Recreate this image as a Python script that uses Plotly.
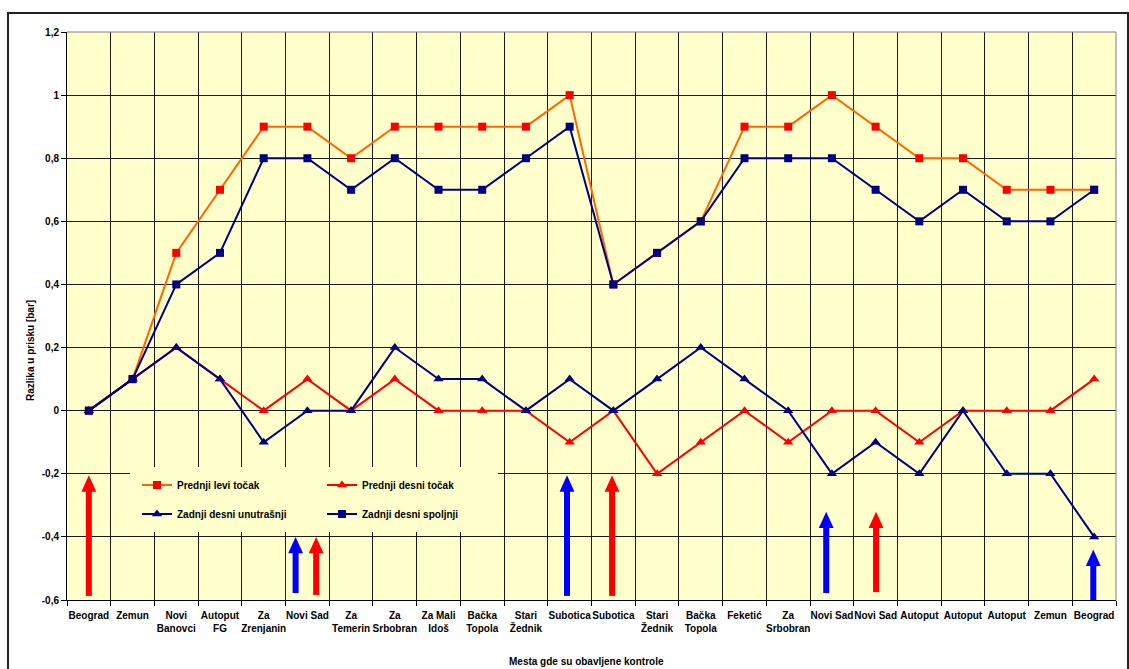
import plotly.graph_objects as go

# ---------------- data ----------------
categories = ["Beograd", "Zemun", "Novi<br>Banovci", "Autoput<br>FG", "Za<br>Zrenjanin",
              "Novi Sad", "Za<br>Temerin", "Za<br>Srbobran", "Za Mali<br>Idoš", "Bačka<br>Topola",
              "Stari<br>Žednik", "Subotica", "Subotica", "Stari<br>Žednik", "Bačka<br>Topola",
              "Feketić", "Za<br>Srbobran", "Novi Sad", "Novi Sad", "Autoput", "Autoput",
              "Autoput", "Zemun", "Beograd"]

prednji_levi = [0, 0.1, 0.5, 0.7, 0.9, 0.9, 0.8, 0.9, 0.9, 0.9, 0.9, 1.0,
                0.4, 0.5, 0.6, 0.9, 0.9, 1.0, 0.9, 0.8, 0.8, 0.7, 0.7, 0.7]
prednji_desni = [0, 0.1, 0.2, 0.1, 0, 0.1, 0, 0.1, 0, 0, 0, -0.1,
                 0, -0.2, -0.1, 0, -0.1, 0, 0, -0.1, 0, 0, 0, 0.1]
zadnji_unutrasnji = [0, 0.1, 0.2, 0.1, -0.1, 0, 0, 0.2, 0.1, 0.1, 0, 0.1,
                     0, 0.1, 0.2, 0.1, 0, -0.2, -0.1, -0.2, 0, -0.2, -0.2, -0.4]
zadnji_spoljnji = [0, 0.1, 0.4, 0.5, 0.8, 0.8, 0.7, 0.8, 0.7, 0.7, 0.8, 0.9,
                   0.4, 0.5, 0.6, 0.8, 0.8, 0.8, 0.7, 0.6, 0.7, 0.6, 0.6, 0.7]

y_tickvals = [-0.6, -0.4, -0.2, 0, 0.2, 0.4, 0.6, 0.8, 1.0, 1.2]
y_ticktext = ["-0,6", "-0,4", "-0,2", "0", "0,2", "0,4", "0,6", "0,8", "1", "1,2"]

# arrows: (x position, tip value, base value, colour)
arrow_x = [0.0, 4.73, 5.2, 10.94, 11.97, 16.87, 18.01, 22.98]
arrow_tip = [-0.205, -0.40, -0.40, -0.205, -0.205, -0.32, -0.32, -0.44]
arrow_base = [-0.587, -0.578, -0.584, -0.587, -0.587, -0.578, -0.575, -0.6]
arrow_color = ["#FF0000", "#0000FF", "#FF0000", "#0000FF", "#FF0000", "#0000FF", "#FF0000", "#0000FF"]

x = list(range(len(categories)))

# ---------------- geometry helpers ----------------
W, H = 1129, 669
L, R, T, B = 67, 1116, 32, 600
PW, PH = R - L, B - T


def px_x(p):
    return (p - L) / PW


def px_y(p):
    return (B - p) / PH


FONT = "Liberation Sans, Arial, sans-serif"

fig = go.Figure()

series = [
    ("Prednji levi točak", prednji_levi, "#FF6600", "#FF0000", "square", 8, "legend"),
    ("Prednji desni točak", prednji_desni, "#FF0000", "#FF0000", "triangle-up", 9, "legend2"),
    ("Zadnji desni unutrašnji", zadnji_unutrasnji, "#000080", "#000080", "triangle-up", 9, "legend3"),
    ("Zadnji desni spoljnji", zadnji_spoljnji, "#000080", "#000080", "square", 8, "legend4"),
]
for name, ys, lc, mc, sym, ms, lg in series:
    fig.add_trace(go.Scatter(
        x=x, y=ys, name=name, mode="lines+markers",
        line=dict(color=lc, width=2),
        marker=dict(color=mc, symbol=sym, size=ms, line=dict(width=0)),
        legend=lg,
    ))

shapes = []
# legend background box
shapes.append(dict(type="rect", xref="paper", yref="paper",
                   x0=px_x(130), x1=px_x(498), y0=px_y(532), y1=px_y(467),
                   fillcolor="#FFFFCC", line=dict(width=0), layer="above"))
# arrows
for ax_, tip, base, col in zip(arrow_x, arrow_tip, arrow_base, arrow_color):
    head_h = 0.052
    head_w = 0.17
    shapes.append(dict(type="line", xref="x", yref="y", x0=ax_, x1=ax_,
                       y0=base, y1=tip - head_h + 0.005,
                       line=dict(color=col, width=6), layer="above"))
    shapes.append(dict(type="path", xref="x", yref="y",
                       path=f"M {ax_ - head_w} {tip - head_h} L {ax_ + head_w} {tip - head_h} L {ax_} {tip} Z",
                       fillcolor=col, line=dict(color=col, width=0), layer="above"))
# plot-area top/right border (gray)
shapes.append(dict(type="line", xref="paper", yref="paper", x0=0, x1=1, y0=1, y1=1,
                   line=dict(color="#808080", width=1)))
shapes.append(dict(type="line", xref="paper", yref="paper", x0=1, x1=1, y0=0, y1=1,
                   line=dict(color="#808080", width=1)))
# outer chart border
shapes.append(dict(type="path", xref="paper", yref="paper",
                   path=f"M {px_x(8)} {px_y(690)} L {px_x(8)} {px_y(13)} L {px_x(1128)} {px_y(13)} L {px_x(1128)} {px_y(690)}",
                   line=dict(color="#222222", width=2)))

legend_common = dict(bgcolor="rgba(0,0,0,0)", borderwidth=0, xanchor="left", yanchor="middle",
                     font=dict(family=FONT, size=10, color="black", weight="bold"))

fig.update_layout(
    width=W, height=H,
    margin=dict(l=L, r=W - R, t=T, b=H - B, autoexpand=False),
    paper_bgcolor="white", plot_bgcolor="#FFFFCC",
    showlegend=True,
    legend=dict(x=px_x(137), y=px_y(485), **legend_common),
    legend2=dict(x=px_x(322), y=px_y(485), **legend_common),
    legend3=dict(x=px_x(137), y=px_y(514), **legend_common),
    legend4=dict(x=px_x(322), y=px_y(514), **legend_common),
    shapes=shapes,
    xaxis=dict(
        range=[-0.5, 23.5], tickmode="array", tickvals=x, ticktext=categories,
        ticks="", showgrid=False, zeroline=False, tickangle=0, ticklabelstandoff=6,
        showline=True, linecolor="black", linewidth=1,
        tickfont=dict(family=FONT, size=10, color="black", weight="bold"),
        minor=dict(tick0=0.5, dtick=1, ticks="outside", ticklen=5, tickcolor="black",
                   showgrid=True, gridcolor="#1a1a1a", gridwidth=1),
        fixedrange=True,
    ),
    yaxis=dict(
        range=[-0.6, 1.2], tickmode="array", tickvals=y_tickvals, ticktext=y_ticktext,
        ticks="outside", ticklen=5, tickcolor="black",
        showgrid=True, gridcolor="#1a1a1a", gridwidth=1, zeroline=False,
        showline=True, linecolor="black", linewidth=1,
        tickfont=dict(family=FONT, size=10, color="black", weight="bold"),
        fixedrange=True,
    ),
    annotations=[
        dict(text="Razlika u prisku [bar]", xref="paper", yref="paper",
             x=px_x(30), y=px_y(351), textangle=-90, showarrow=False,
             xanchor="center", yanchor="middle",
             font=dict(family=FONT, size=10, color="black", weight="bold")),
        dict(text="Mesta gde su obavljene kontrole", xref="paper", yref="paper",
             x=px_x(586), y=px_y(661), showarrow=False,
             xanchor="center", yanchor="middle",
             font=dict(family=FONT, size=10, color="black", weight="bold")),
    ],
)

fig.write_html("out.html", config={"displayModeBar": False},
               post_script="document.body.style.margin='0px';document.body.style.padding='0px';")
